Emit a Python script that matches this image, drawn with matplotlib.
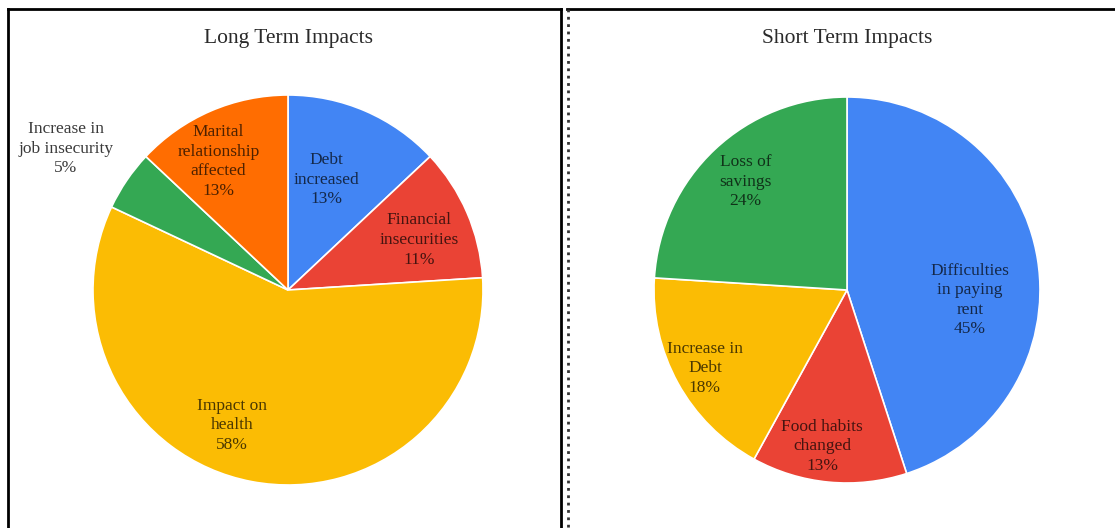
import numpy as np
import matplotlib.pyplot as plt
from matplotlib.colors import to_rgb
from matplotlib.lines import Line2D

# Long term impacts (clockwise from 12 o'clock)
long_labels = ["Debt\nincreased", "Financial\ninsecurities", "Impact on\nhealth",
               "Increase in\njob insecurity", "Marital\nrelationship\naffected"]
long_values = [13, 11, 58, 5, 13]
long_colors = ["#4285F4", "#EA4335", "#FBBC04", "#34A853", "#FF6D01"]

# Short term impacts
short_labels = ["Difficulties\nin paying\nrent", "Food habits\nchanged",
                "Increase in\nDebt", "Loss of\nsavings"]
short_values = [45, 13, 18, 24]
short_colors = ["#4285F4", "#EA4335", "#FBBC04", "#34A853"]

W, H = 1115, 528
plt.rcParams['font.family'] = ['Liberation Serif', 'DejaVu Serif']
fig = plt.figure(figsize=(W / 100, H / 100), dpi=100)


def px_axes(cx, cy, r):
    return fig.add_axes([(cx - r) / W, (H - cy - r) / H, 2 * r / W, 2 * r / H])


def draw_pie(ax, values, labels, colors, radii, shifts):
    wedges, _ = ax.pie(values, colors=colors, startangle=90, counterclock=False,
                       wedgeprops=dict(edgecolor="white", linewidth=1.2))
    for w, lab, v, c, rr, sh in zip(wedges, labels, values, colors, radii, shifts):
        ang = np.deg2rad((w.theta1 + w.theta2) / 2 + sh)
        # text sits inside the slice -> dark shade of slice colour
        tc = tuple(x * 0.3 for x in to_rgb(c)) if rr < 1 else "#3a3a3a"
        ax.text(rr * np.cos(ang), rr * np.sin(ang), f"{lab}\n{v}%",
                ha="center", va="center", fontsize=12.5, color=tc,
                linespacing=1.3, clip_on=False)
    ax.set_xlim(-1, 1)
    ax.set_ylim(-1, 1)
    ax.set_aspect("equal")
    ax.axis("off")


ax1 = px_axes(288, 290, 195)
draw_pie(ax1, long_values, long_labels, long_colors,
         radii=[0.60, 0.72, 0.75, 1.35, 0.75], shifts=[4, -2.5, -11.7, 1.7, 5])

ax2 = px_axes(847, 290, 193)
draw_pie(ax2, short_values, short_labels, short_colors,
         radii=[0.64, 0.82, 0.84, 0.77], shifts=[-13.6, -3.7, 0, 0])

fig.text(288 / W, 1 - 38 / H, "Long Term Impacts", ha="center", va="center",
         fontsize=15.5, color="#2a2a2a")
fig.text(847 / W, 1 - 38 / H, "Short Term Impacts", ha="center", va="center",
         fontsize=15.5, color="#2a2a2a")

# panel borders
def fline(x, y, **kw):
    fig.add_artist(Line2D([v / W for v in x], [1 - v / H for v in y],
                          transform=fig.transFigure, **kw))

fline([8, 8], [9, 528], color="black", lw=2)
fline([8, 561], [9, 9], color="black", lw=2)
fline([561, 561], [9, 528], color="black", lw=2)
fline([567, 1115], [9, 9], color="black", lw=2)
fline([568, 568], [9, 528], color="#333333", lw=2, linestyle=":")

fig.savefig("out.png", dpi=100)
